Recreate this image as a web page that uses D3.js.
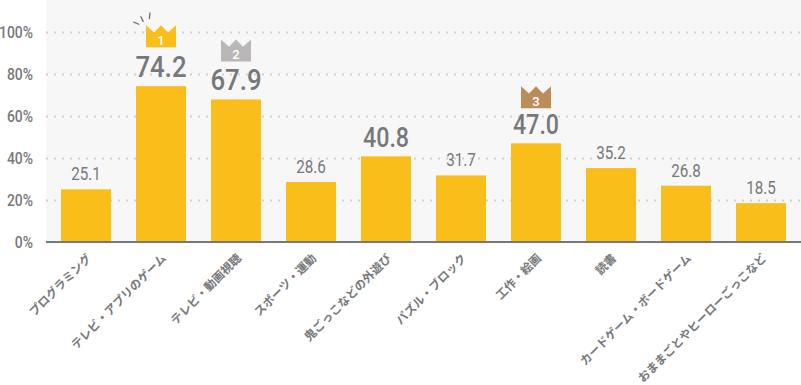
<!DOCTYPE html>
<html>

<head>
	<meta charset="utf-8">
	<title>Bar chart</title>
	<style>
		body,
		html {
			margin: 0;
			padding: 0;
			background: #fff;
		}

		svg {
			display: block;
		}
	</style>
</head>

<body>

	<svg id="svg" width="801" height="385"></svg>

	<script src="https://d3js.org/d3.v7.min.js"></script>
	<script>
		// Data
		const categories = ['プログラミング', 'テレビ・アプリのゲーム', 'テレビ・動画視聴', 'スポーツ・運動', '鬼ごっこなどの外遊び',
			'パズル・ブロック', '工作・絵画', '読書', 'カードゲーム・ボードゲーム', 'おままごとやヒーローごっこなど']
		const values = [25.1, 74.2, 67.9, 28.6, 40.8, 31.7, 47.0, 35.2, 26.8, 18.5]
		const tickValues = [0, 20, 40, 60, 80, 100]
		const crownColors = ['#fabe1a', '#b9b8b6', '#bc8c5a']

		const svg = d3.select('#svg')
		const numFont = 'Roboto, sans-serif'
		const gray = '#77787a'

		// Scales
		const x = d3.scaleBand()
			.domain(categories)
			.range([48.5, 798.5])
			.paddingInner(1 / 3)
			.paddingOuter(1 / 6)

		const y = d3.scaleLinear()
			.domain([0, 115])
			.range([242, 0.5])

		// Plot background
		svg.append('rect')
			.attr('x', 46)
			.attr('y', 0)
			.attr('width', 755)
			.attr('height', 242)
			.attr('fill', '#f7f7f7')

		// Dotted grid lines
		const grid = svg.append('g')
			.attr('transform', 'translate(46,0)')
			.call(d3.axisLeft(y).tickValues(tickValues.slice(1)).tickSize(-755).tickFormat(''))
		grid.select('.domain').remove()
		grid.selectAll('line')
			.attr('stroke', '#cfcfcf')
			.attr('stroke-width', 2)
			.attr('stroke-dasharray', '2 6')

		// Y axis labels
		const yAxis = svg.append('g')
			.attr('transform', 'translate(33,0)')
			.call(d3.axisLeft(y).tickValues(tickValues).tickSize(0).tickPadding(0).tickFormat(d => d + '%'))
		yAxis.select('.domain').remove()
		yAxis.selectAll('text')
			.attr('fill', gray)
			.attr('font-family', numFont)
			.attr('font-weight', 500)
			.attr('font-size', 17)
			.attr('text-anchor', 'end')
			.attr('transform', 'scale(0.82,1)')

		// Bars
		svg.selectAll('.bar')
			.data(categories)
			.join('rect')
			.attr('class', 'bar')
			.attr('x', d => x(d))
			.attr('y', (d, i) => y(values[i]))
			.attr('width', x.bandwidth())
			.attr('height', (d, i) => y(0) - y(values[i]))
			.attr('fill', '#fabe1a')

		// Baseline
		svg.append('line')
			.attr('x1', 46)
			.attr('x2', 801)
			.attr('y1', y(0))
			.attr('y2', y(0))
			.attr('stroke', gray)
			.attr('stroke-width', 2)

		// Value labels, bigger for the higher values
		const labelSize = v => v >= 60 ? 30 : v >= 40 ? 27 : 19
		svg.selectAll('.value')
			.data(values)
			.join('text')
			.attr('class', 'value')
			.text(d => d.toFixed(1))
			.attr('transform', (d, i) => `translate(${x(categories[i]) + x.bandwidth() / 2},${y(d) - 9}) scale(${d >= 40 ? 0.86 : 0.8},1)`)
			.attr('text-anchor', 'middle')
			.attr('fill', gray)
			.attr('font-family', numFont)
			.attr('font-weight', d => d >= 40 ? 500 : 400)
			.attr('font-size', labelSize)

		// Crowns for the top three
		const ranked = d3.range(values.length).sort((a, b) => values[b] - values[a]).slice(0, 3)
		const crownGap = [39, 38, 35]
		ranked.forEach((idx, rank) => {
			const g = svg.append('g')
				.attr('transform', `translate(${x(categories[idx]) + x.bandwidth() / 2},${y(values[idx]) - crownGap[rank]})`)

			g.append('path')
				.attr('d', 'M-15,0V-22L-7,-14.7L0,-22L7,-14.7L15,-22V0Z')
				.attr('fill', crownColors[rank])

			g.append('text')
				.text(rank + 1)
				.attr('y', -2)
				.attr('text-anchor', 'middle')
				.attr('fill', '#fff')
				.attr('font-family', numFont)
				.attr('font-weight', 500)
				.attr('font-size', 13)

			// little sparkle over the winner
			if (rank === 0) {
				[[-27.7, -25.3, -21.7, -22.7], [-20.3, -31, -17.7, -25.3], [-11, -34.7, -11.7, -28]].forEach(s => {
					g.append('line')
						.attr('x1', s[0])
						.attr('y1', s[1])
						.attr('x2', s[2])
						.attr('y2', s[3])
						.attr('stroke', '#6f7072')
						.attr('stroke-width', 1.3)
				})
			}
		})

		// Rotated category labels
		svg.selectAll('.cat')
			.data(categories)
			.join('text')
			.attr('class', 'cat')
			.text(d => d)
			.attr('transform', d => `translate(${x(d) + x.bandwidth() / 2 + 6},${y(0) + 17}) rotate(-45)`)
			.attr('text-anchor', 'end')
			.attr('fill', gray)
			.attr('font-family', '"Noto Sans CJK JP", sans-serif')
			.attr('font-weight', 700)
			.attr('font-size', 11.7)
	</script>
</body>

</html>
